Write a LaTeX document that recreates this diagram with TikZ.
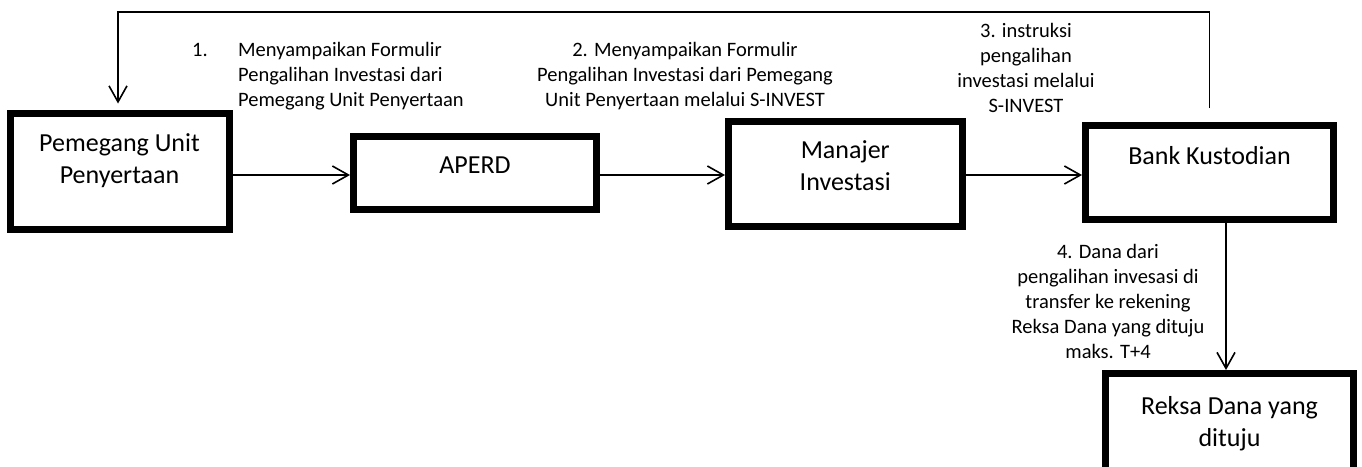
\documentclass[tikz,border=0pt]{standalone}
\usepackage{fontspec}
\setmainfont{Carlito}
\usetikzlibrary{arrows.meta}
\tikzset{
  box/.style={draw, line width=7pt, inner xsep=0pt, inner ysep=0pt,
    font=\fontsize{26}{31.5}\selectfont, align=center, anchor=base},
  lbl/.style={font=\fontsize{20.5}{25}\selectfont, inner sep=0pt, anchor=base},
  conn/.style={line width=1.6pt,
    -{Straight Barb[length=16pt,width=18pt,line width=1.6pt]}}
}
\begin{document}
\begin{tikzpicture}[x=1pt,y=-1pt]
\useasboundingbox (0,0) rectangle (1362,466);
\begin{scope}
\clip (0,0) rectangle (1362,466);
% boxes (anchored at the baseline of their last text line)
\node[box, minimum width=219pt, text height=70pt, text depth=46pt] (pup) at (119.5,183) {Pemegang Unit\\Penyertaan};
\node[box, minimum width=243pt, text height=36.5pt, text depth=36.5pt] (aperd) at (475,173) {APERD};
\node[box, minimum width=233.5pt, text height=69pt, text depth=36pt] (mi) at (845.25,190) {Manajer\\Investasi};
\node[box, minimum width=248pt, text height=38.5pt, text depth=55.5pt] (bk) at (1209.5,164) {Bank Kustodian};
\node[box, minimum width=248pt, text height=72.5pt, text depth=40pt] (rd) at (1229.5,446) {Reksa Dana yang\\dituju};
% labels (anchored at the baseline of their last line)
\node[lbl, anchor=base west] (n1) at (192,56) {1.};
\node[lbl, anchor=base west, align=left] (l1) at (238,106) {Menyampaikan Formulir\\Pengalihan Investasi dari\\Pemegang Unit Penyertaan};
\node[lbl, align=center] (l2) at (685,106) {2. Menyampaikan Formulir\\Pengalihan Investasi dari Pemegang\\Unit Penyertaan melalui S-INVEST};
\node[lbl, align=center] (l3) at (1026,112) {3. instruksi\\pengalihan\\investasi melalui\\S-INVEST};
\node[lbl, align=center] (l4) at (1108,358) {4. Dana dari\\pengalihan invesasi di\\transfer ke rekening\\Reksa Dana yang dituju\\maks. T+4};
% connectors
\draw[conn] (pup.east |- 0,175) -- (aperd.west |- 0,175);
\draw[conn] (aperd.east |- 0,175) -- (mi.west |- 0,175);
\draw[conn] (mi.east |- 0,175) -- (bk.west |- 0,175);
\draw[conn] ([xshift=16.5pt]bk.south) -- ([xshift=-3.5pt]rd.north);
\coordinate (fbs) at ([yshift=14pt]bk.north);
\coordinate (fbe) at ([xshift=-1.5pt,yshift=6pt]pup.north);
\draw[conn] (fbs) -- (fbs |- 0,12) -- (fbe |- 0,12) -- (fbe);
\end{scope}
\end{tikzpicture}
\end{document}
